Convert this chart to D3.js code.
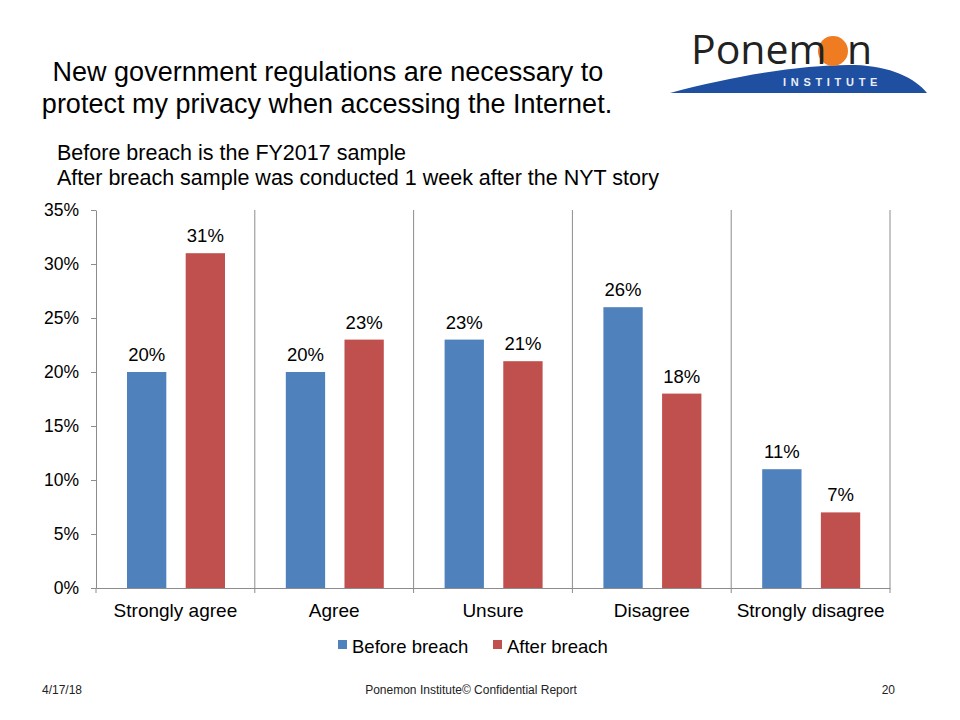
<!DOCTYPE html>
<html><head><meta charset="utf-8">
<script src="https://cdn.jsdelivr.net/npm/d3@7"></script>
<style>body{margin:0;background:#fff}svg{display:block;font-family:"Liberation Sans",Arial,Helvetica,sans-serif}</style>
</head><body><svg id="c" width="960" height="720"></svg>
<script>
const categories = ["Strongly agree","Agree","Unsure","Disagree","Strongly disagree"];
const seriesNames = ["Before breach","After breach"];
const beforeValues = [20,20,23,26,11];
const afterValues = [31,23,21,18,7];
const yTicks = [0,5,10,15,20,25,30,35];
const colors = ["#4f81bd","#c0504d"];

const svg = d3.select("#c");
const m = {l:96, r:890, t:210, b:588};

// Titles
const title = svg.append("text").attr("text-anchor","middle").attr("font-size",27).attr("fill","#000");
title.append("tspan").attr("x",328).attr("y",81).text("New government regulations are necessary to");
title.append("tspan").attr("x",327).attr("y",113).text("protect my privacy when accessing the Internet.");
const sub = svg.append("text").attr("font-size",21.5).attr("fill","#000");
sub.append("tspan").attr("x",57).attr("y",160).text("Before breach is the FY2017 sample");
sub.append("tspan").attr("x",57).attr("y",185).text("After breach sample was conducted 1 week after the NYT story");

// Logo
const logo = svg.append("g");
logo.append("path").attr("d","M670,93 C740,74 810,64 855,65 C890,66 915,78 927,93 Z").attr("fill","#1f4fa0");
logo.append("circle").attr("cx",833).attr("cy",51).attr("r",15).attr("fill","#f07c22");
logo.append("text").attr("x",691).attr("y",64).attr("font-size",41).attr("fill","#222").attr("font-family","'Open Sans',sans-serif")
  .text("Ponem\u2002n");
logo.append("text").attr("x",783).attr("y",86).attr("font-size",11).attr("fill","#e8eefa").attr("letter-spacing",4.7).attr("font-weight","bold").text("INSTITUTE");

// Scales
const x = d3.scaleBand().domain(categories).range([m.l, m.r]).paddingInner(0).paddingOuter(0);
const x1 = d3.scaleBand().domain(seriesNames).range([31, 129]).paddingInner(0.33).paddingOuter(0);
const y = d3.scaleLinear().domain([0,35]).range([m.b, m.t]);

// Separators
const bounds = categories.map(c=>x(c)+x.bandwidth());
svg.append("g").selectAll("line").data(bounds).join("line")
  .attr("x1",d=>d).attr("x2",d=>d).attr("y1",m.t).attr("y2",m.b+5)
  .attr("stroke","#8c8c8c").attr("stroke-width",1);

// Bars
const data = categories.map((c,i)=>({c, vals:[{s:seriesNames[0],v:beforeValues[i]},{s:seriesNames[1],v:afterValues[i]}]}));
const g = svg.append("g").selectAll("g").data(data).join("g").attr("transform",d=>`translate(${x(d.c)},0)`);
g.selectAll("rect").data(d=>d.vals).join("rect")
  .attr("x",d=>x1(d.s)).attr("width",x1.bandwidth())
  .attr("y",d=>y(d.v)).attr("height",d=>y(0)-y(d.v))
  .attr("fill",(d,i)=>colors[i]);
g.selectAll("text").data(d=>d.vals).join("text")
  .attr("x",d=>x1(d.s)+x1.bandwidth()/2).attr("y",d=>y(d.v)-11)
  .attr("text-anchor","middle").attr("font-size",18.5).attr("fill","#000").text(d=>d.v+"%");

// Y axis
const ya = svg.append("g").attr("transform",`translate(${m.l},0)`)
  .call(d3.axisLeft(y).tickValues(yTicks).tickFormat(d=>d+"%").tickSize(5).tickSizeOuter(0));
ya.select(".domain").attr("stroke","#8c8c8c");
ya.selectAll(".tick line").attr("stroke","#8c8c8c");
ya.selectAll("text").attr("font-size",17.5).attr("fill","#000").attr("x",-17).attr("font-family","'Liberation Sans',Arial,sans-serif");

// X axis
const xa = svg.append("g").attr("transform",`translate(0,${m.b})`)
  .call(d3.axisBottom(x).tickSize(0).tickPadding(0));
xa.select(".domain").attr("stroke","#8c8c8c");
xa.selectAll("text").attr("font-size",19).attr("fill","#000").attr("y",29).attr("dy",0).attr("font-family","'Liberation Sans',Arial,sans-serif");
svg.append("line").attr("x1",m.l).attr("x2",m.l).attr("y1",m.b).attr("y2",m.b+5).attr("stroke","#8c8c8c");

// Legend
const legendX = [338,493];
const lg = svg.append("g").selectAll("g").data(seriesNames).join("g")
  .attr("transform",(d,i)=>`translate(${legendX[i]},640)`);
lg.append("rect").attr("width",9).attr("height",9).attr("fill",(d,i)=>colors[i]);
lg.append("text").attr("x",14).attr("y",13).attr("font-size",18.5).attr("fill","#000").text(d=>d);

// Footer
const ft = svg.append("g").attr("font-size",12).attr("fill","#222");
ft.append("text").attr("x",42).attr("y",694).text("4/17/18");
ft.append("text").attr("x",471).attr("y",694).attr("text-anchor","middle").text("Ponemon Institute\u00a9 Confidential Report");
ft.append("text").attr("x",895).attr("y",694).attr("text-anchor","end").text("20");
</script></body></html>
